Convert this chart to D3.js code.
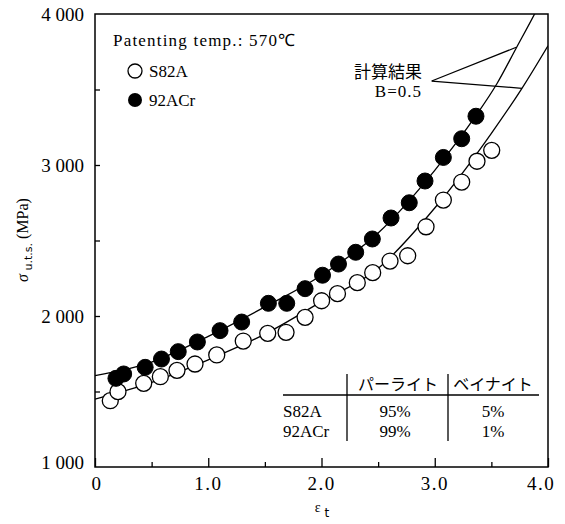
<!DOCTYPE html>
<html>
<head>
<meta charset="utf-8">
<script src="https://cdn.jsdelivr.net/npm/d3@7"></script>
<style>
  body { margin: 0; background: #fff; }
</style>
</head>
<body>
<script>
// measured points, strain eps_t vs tensile strength (MPa)
const s82aX = [0.135, 0.203, 0.430, 0.577, 0.724, 0.883, 1.075, 1.309, 1.525, 1.687, 1.855,
  2.001, 2.141, 2.316, 2.452, 2.605, 2.761, 2.923, 3.076, 3.238, 3.373, 3.503];
const s82aY = [1439, 1499, 1554, 1598, 1640, 1682, 1742, 1834, 1885, 1892, 1991,
  2101, 2148, 2221, 2287, 2364, 2399, 2591, 2768, 2887, 3025, 3097];

const acrX = [0.185, 0.253, 0.443, 0.587, 0.735, 0.904, 1.104, 1.295, 1.531, 1.693, 1.855,
  2.009, 2.150, 2.302, 2.449, 2.614, 2.775, 2.914, 3.076, 3.238, 3.364];
const acrY = [1587, 1616, 1660, 1715, 1764, 1828, 1903, 1960, 2084, 2084, 2181,
  2270, 2344, 2422, 2510, 2649, 2750, 2894, 3050, 3174, 3323];

// calculated curves (B=0.5)
const calcUpperX = [0, 0.5, 1.0, 1.5, 2.0, 2.5, 3.0, 3.36, 3.55, 3.72, 3.885, 3.95];
const calcUpperY = [1605, 1695, 1865, 2060, 2270, 2550, 2965, 3323, 3540, 3775, 4005, 4100];
const calcLowerX = [0, 0.5, 1.0, 1.5, 2.0, 2.5, 3.0, 3.5, 3.77, 4.0];
const calcLowerY = [1449, 1560, 1710, 1880, 2095, 2315, 2715, 3210, 3508, 3790];

const xTicks = [0, 1, 2, 3, 4];
const xTickLabels = ["0", "1.0", "2.0", "3.0", "4.0"];
const yTicks = [1000, 2000, 3000, 4000];
const yTickLabels = ["1 000", "2 000", "3 000", "4 000"];

const tableHead = ["", "パーライト", "ベイナイト"];
const tableRows = [["S82A", "95%", "5%"], ["92ACr", "99%", "1%"]];

const serif = "Liberation Serif";
const jp = "Noto Sans CJK JP";

const width = 565, height = 524;
const svg = d3.select("body").append("svg").attr("width", width).attr("height", height)
  .attr("font-family", serif);

const x = d3.scaleLinear().domain([0, 4]).range([95, 548]);
const y = d3.scaleLinear().domain([1000, 4000]).range([467, 14]);

svg.append("defs").append("clipPath").attr("id", "plot")
  .append("rect").attr("x", 95).attr("y", 14).attr("width", 453).attr("height", 453);

// frame
svg.append("rect").attr("x", 95).attr("y", 14).attr("width", 453).attr("height", 453)
  .attr("fill", "none").attr("stroke", "#000").attr("stroke-width", 1.5);

// ticks pointing inward
svg.append("g").attr("transform", "translate(0,467)")
  .call(d3.axisTop(x).tickValues(xTicks).tickSize(9).tickFormat(""))
  .call(g => g.select(".domain").remove());
svg.append("g").attr("transform", "translate(0,467)")
  .call(d3.axisTop(x).tickValues([0.5, 1.5, 2.5, 3.5]).tickSize(5).tickFormat(""))
  .call(g => g.select(".domain").remove());
svg.append("g").attr("transform", "translate(95,0)")
  .call(d3.axisRight(y).tickValues([1500, 2000, 2500, 3000, 3500]).tickSize(5).tickFormat(""))
  .call(g => g.select(".domain").remove());
svg.selectAll(".tick line").attr("stroke-width", 1.3);

// tick labels
svg.append("g").selectAll("text").data(xTicks).join("text")
  .attr("x", (d, i) => x(d) + (i == 0 ? 2 : i == 4 ? -7 : 0))
  .attr("y", 490)
  .attr("text-anchor", "middle")
  .attr("font-size", 19)
  .attr("letter-spacing", 1.5)
  .text((d, i) => xTickLabels[i]);
svg.append("g").selectAll("text").data(yTicks).join("text")
  .attr("x", 84)
  .attr("y", (d, i) => y(d) + (i == 0 ? 2 : 7))
  .attr("text-anchor", "end")
  .attr("font-size", 19)
  .text((d, i) => yTickLabels[i]);

// axis labels
const yl = svg.append("text").attr("transform", "translate(28,240) rotate(-90)")
  .attr("text-anchor", "middle");
yl.append("tspan").attr("font-size", 16).attr("font-style", "italic").text("σ");
yl.append("tspan").attr("font-size", 11).attr("dy", 4).attr("font-family", "DejaVu Sans")
  .text(" u.t.s.");
yl.append("tspan").attr("font-size", 16).attr("dy", -4).text(" (MPa)");

const xl = svg.append("text").attr("x", 322).attr("y", 512).attr("text-anchor", "middle");
xl.append("tspan").attr("font-size", 14).text("ε");
xl.append("tspan").attr("font-size", 12).attr("dx", 4).attr("dy", 5)
  .attr("font-family", "DejaVu Sans").text("t");

// calculated curves
const line = d3.line().x(d => x(d[0])).y(d => y(d[1])).curve(d3.curveMonotoneX);
const plot = svg.append("g").attr("clip-path", "url(#plot)");
plot.append("path").datum(d3.zip(calcUpperX, calcUpperY)).attr("d", line)
  .attr("fill", "none").attr("stroke", "#000").attr("stroke-width", 1.3);
plot.append("path").datum(d3.zip(calcLowerX, calcLowerY)).attr("d", line)
  .attr("fill", "none").attr("stroke", "#000").attr("stroke-width", 1.3);

// markers
plot.append("g").selectAll("circle").data(d3.zip(s82aX, s82aY)).join("circle")
  .attr("cx", d => x(d[0])).attr("cy", d => y(d[1])).attr("r", 8)
  .attr("fill", "#fff").attr("stroke", "#000").attr("stroke-width", 1.3);
plot.append("g").selectAll("circle").data(d3.zip(acrX, acrY)).join("circle")
  .attr("cx", d => x(d[0])).attr("cy", d => y(d[1])).attr("r", 8)
  .attr("fill", "#000").attr("stroke", "#000").attr("stroke-width", 1);

// legend
svg.append("text").attr("x", 113).attr("y", 46).attr("font-size", 17)
  .attr("letter-spacing", 1.2).text("Patenting temp.: 570℃");
svg.append("circle").attr("cx", 135).attr("cy", 71).attr("r", 7)
  .attr("fill", "#fff").attr("stroke", "#000").attr("stroke-width", 1.3);
svg.append("text").attr("x", 149).attr("y", 77).attr("font-size", 17).text("S82A");
svg.append("circle").attr("cx", 135).attr("cy", 100).attr("r", 7).attr("fill", "#000");
svg.append("text").attr("x", 149).attr("y", 106).attr("font-size", 17).text("92ACr");

// annotation with leader lines
svg.append("text").attr("x", 422).attr("y", 78).attr("text-anchor", "end")
  .attr("font-size", 17).attr("font-family", jp).text("計算結果");
svg.append("text").attr("x", 422).attr("y", 97).attr("text-anchor", "end")
  .attr("font-size", 17).attr("letter-spacing", 1).text("B=0.5");
const leadFrom = [2.973, 3556];
[[3.72, 3780], [3.77, 3508]].forEach(p => {
  svg.append("line")
    .attr("x1", x(leadFrom[0])).attr("y1", y(leadFrom[1]))
    .attr("x2", x(p[0])).attr("y2", y(p[1]))
    .attr("stroke", "#000").attr("stroke-width", 1.2);
});

// composition table
const colX = [310, 398, 493];
const tbl = svg.append("g");
tbl.append("line").attr("x1", 283).attr("x2", 539).attr("y1", 395).attr("y2", 395)
  .attr("stroke", "#000").attr("stroke-width", 1.3);
[347, 448].forEach(v => tbl.append("line").attr("x1", v).attr("x2", v)
  .attr("y1", 374).attr("y2", 441).attr("stroke", "#000").attr("stroke-width", 1.3));
tbl.selectAll(".head").data(tableHead).join("text")
  .attr("x", (d, i) => colX[i])
  .attr("y", 390).attr("text-anchor", "middle").attr("font-size", 16)
  .attr("font-family", jp).text(d => d);
tableRows.forEach((row, r) => {
  tbl.selectAll(".row" + r).data(row).join("text")
    .attr("x", (d, i) => i == 0 ? 283 : i == 1 ? 395 : colX[i])
    .attr("y", 417 + r * 20)
    .attr("text-anchor", (d, i) => i == 0 ? "start" : "middle")
    .attr("font-size", 17).text(d => d);
});
</script>
</body>
</html>
